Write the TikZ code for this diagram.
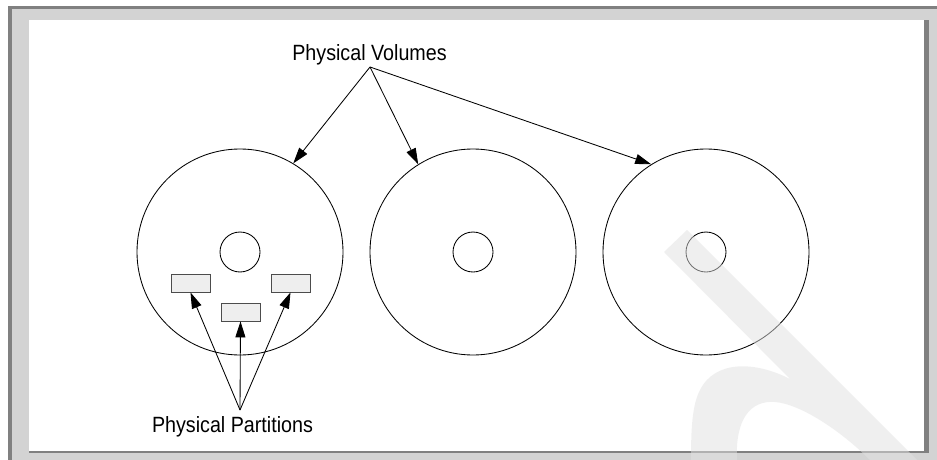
\documentclass[tikz,border=0pt]{standalone}
\usepackage{fontspec}
\setmainfont{Liberation Sans}
\usetikzlibrary{arrows.meta}

\definecolor{framedark}{RGB}{128,128,128}
\definecolor{framelight}{RGB}{211,211,211}
\definecolor{partfill}{RGB}{238,238,238}
\definecolor{markgray}{RGB}{225,225,225}

% labels are set a little taller than the font
\newcommand\tallword[1]{\scalebox{1}[1.12]{#1}}

\tikzset{
  disk/.style={draw, circle, minimum size=206pt, inner sep=0pt},
  hub/.style={draw, circle, minimum size=40pt, inner sep=0pt},
  part/.style={draw=black!70, fill=partfill, minimum width=39pt, minimum height=18pt, inner sep=0pt},
  tip/.style={-{Triangle[length=16pt,width=10pt]}},
  lbl/.style={inner sep=0pt, font=\fontsize{19.7}{24}\selectfont}
}

\begin{document}
\begin{tikzpicture}[x=1pt, y=-1pt, line width=0.85pt]
\useasboundingbox (0,0) rectangle (937,460);

% sunken frame
\fill [white] (0,0) rectangle (937,460);
\fill [framelight] (8,6) rectangle (937,460);
\fill [framedark] (8,6) rectangle (937,9);
\fill [framedark] (8,6) rectangle (12,460);
\fill [framedark] (29,20) rectangle (929,453);
\fill [white] (29,20) rectangle (924,451);

% disks with their hubs
\foreach \i/\x in {1/240,2/473,3/706}{
  \node [disk] (pv\i) at (\x,252) {};
  \node [hub] (hub\i) at (pv\i) {};
}

% partitions on the first disk
\node [part] (pp1) at (190.5,283) {};
\node [part] (pp2) at (240.5,312) {};
\node [part] (pp3) at (290.5,283) {};

\node [lbl, anchor=base] (pvlabel) at (369.5,61) {\tallword{Physical Volumes}};
\node [lbl, anchor=base] (pplabel) at (232.5,432) {\tallword{Physical Partitions}};

\coordinate (pvfrom) at (370,67);
\coordinate (ppfrom) at (240,410);

\draw [tip] (pvfrom) -- (pv1.59);
\draw [tip] (pvfrom) -- (pv2.122.6);
\draw [tip] (pvfrom) -- (pv3.122.2);

\draw [tip] (ppfrom) -- (pp1.south);
\draw [tip] (ppfrom) -- (pp2.south);
\draw [tip] (ppfrom) -- (pp3.south);

% faint mark across the lower right corner
\fill [markgray, opacity=0.5]
  (687,230) -- (664,252) -- (790,379)
  .. controls (755,361) and (715,360) .. (700,390)
  .. controls (692,405) and (691,430) .. (691,460)
  -- (737,460)
  .. controls (735,420) and (750,400) .. (775,402)
  .. controls (800,404) and (840,430) .. (870,460)
  -- (917,460) -- cycle;
\end{tikzpicture}
\end{document}
